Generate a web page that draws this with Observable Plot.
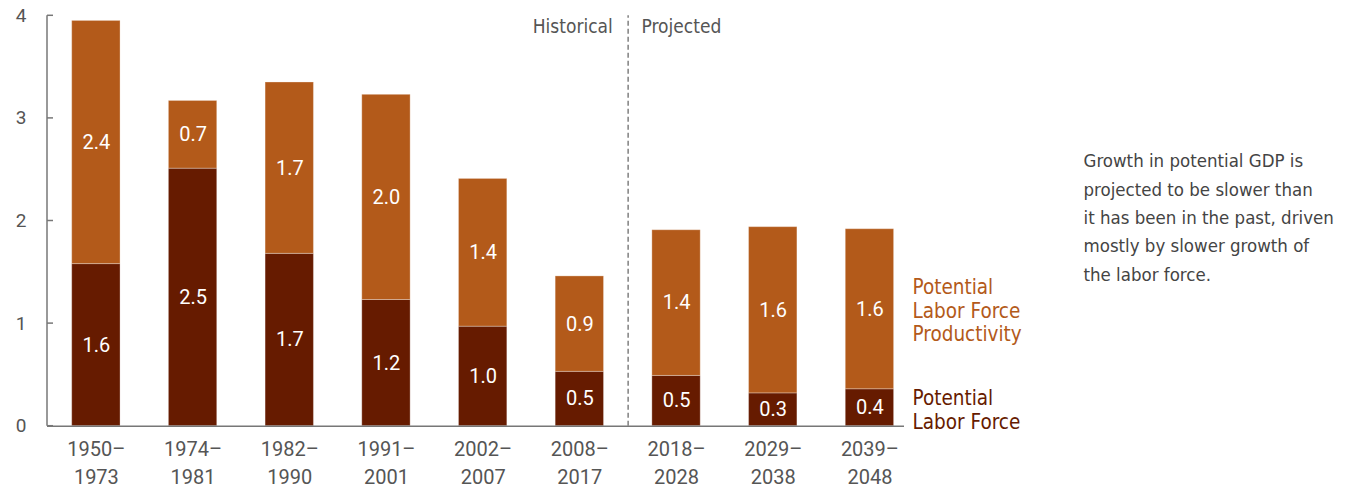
<!DOCTYPE html>
<html>
<head>
<meta charset="utf-8">
<script src="https://cdn.jsdelivr.net/npm/d3@7"></script>
<script src="https://cdn.jsdelivr.net/npm/@observablehq/plot@0.6"></script>
<style>
  html, body { margin: 0; padding: 0; background: #fff; }
  #chart svg { display: block; }
</style>
</head>
<body>
<div id="chart"></div>
<script>
const categories = ["1950–1973", "1974–1981", "1982–1990", "1991–2001", "2002–2007", "2008–2017", "2018–2028", "2029–2038", "2039–2048"];
const laborForce   = [1.58, 2.51, 1.68, 1.23, 0.97, 0.53, 0.49, 0.32, 0.36];
const productivity = [2.37, 0.66, 1.67, 2.00, 1.44, 0.93, 1.42, 1.62, 1.56];
const seriesNames = ["Potential Labor Force", "Potential Labor Force Productivity"];
const seriesColors = ["#661b00", "#b35a1a"];
const yTicks = [0, 1, 2, 3, 4];
const periodLabels = ["Historical", "Projected"];
const legendLabels = ["Potential\nLabor Force\nProductivity", "Potential\nLabor Force"];
const note = "Growth in potential GDP is\nprojected to be slower than\nit has been in the past, driven\nmostly by slower growth of\nthe labor force.";

const data = [];
categories.forEach((c, i) => {
  data.push({period: c, series: seriesNames[0], value: laborForce[i]});
  data.push({period: c, series: seriesNames[1], value: productivity[i]});
});

const numFont = "Roboto, 'Liberation Sans', sans-serif";
const textFont = "'Liberation Sans Narrow', 'DejaVu Sans Condensed', Roboto, sans-serif";
const fmt = d3.format(".1f");
const axisGray = "#777";

const chart = Plot.plot({
  width: 1357,
  height: 489,
  marginLeft: 47,
  marginRight: 453,
  marginTop: 15.3,
  marginBottom: 63.3,
  style: {fontFamily: numFont, background: "#fff"},
  x: {domain: categories, range: [71.7, 893.6], paddingInner: 0.5, paddingOuter: 0, round: false, axis: null},
  y: {domain: [0, 4], axis: null, label: null},
  color: {domain: seriesNames, range: seriesColors},
  marks: [
    Plot.barY(data, Plot.stackY({
      x: "period", y: "value", z: "series", fill: "series",
      stroke: "#fff", strokeOpacity: 0.3, strokeWidth: 1
    })),
    Plot.text(data, Plot.stackY({
      x: "period", y: "value", z: "series",
      text: d => fmt(d.value),
      fill: "white", fontSize: 20, fontFamily: numFont
    })),
    Plot.ruleX([categories[5]], {x: d => d, y1: 0, y2: 4, dx: 48.3, stroke: "#888", strokeWidth: 1.6, strokeDasharray: "5,3"}),
    Plot.text([periodLabels[0]], {x: () => categories[5], text: d => d, frameAnchor: "top", lineAnchor: "middle", dy: 10.7, dx: 33, textAnchor: "end", fill: "#555", fontSize: 19, fontFamily: textFont}),
    Plot.text([periodLabels[1]], {x: () => categories[6], text: d => d, frameAnchor: "top", lineAnchor: "middle", dy: 10.7, dx: -35, textAnchor: "start", fill: "#555", fontSize: 19, fontFamily: textFont}),
    Plot.ruleY([0], {y: d => d, stroke: axisGray, strokeWidth: 1.5}),
    Plot.axisY({ticks: yTicks, tickSize: 0, tickPadding: 21, fontSize: 19, fill: "#555", label: null, tickFormat: d => String(d), fontFamily: numFont}),
    Plot.axisX({tickSize: 0, tickPadding: 10, fontSize: 20, lineHeight: 1.4, fill: "#555", label: null, fontFamily: numFont, tickFormat: d => d.replace("–", "–\n")}),
    Plot.text([legendLabels[0]], {text: d => d, frameAnchor: "bottom-right", dx: 8, dy: -116, textAnchor: "start", lineAnchor: "middle", lineHeight: 1.15, fill: seriesColors[1], fontSize: 20.5, fontFamily: textFont}),
    Plot.text([legendLabels[1]], {text: d => d, frameAnchor: "bottom-right", dx: 8, dy: -17, textAnchor: "start", lineAnchor: "middle", lineHeight: 1.15, fill: seriesColors[0], fontSize: 20.5, fontFamily: textFont}),
    Plot.text([note], {text: d => d, frameAnchor: "right", dx: 179, dy: -6, textAnchor: "start", lineAnchor: "middle", lineHeight: 1.53, fill: "#444", fontSize: 18.5, fontFamily: textFont})
  ]
});
document.getElementById("chart").appendChild(chart);

// vertical axis line at the frame's left edge with inward ticks, positioned from the y scale
(function () {
  const y = chart.scale("y");
  const x0 = 47;
  const mk = (x1, x2, y1, y2) => {
    const l = document.createElementNS("http://www.w3.org/2000/svg", "line");
    l.setAttribute("x1", x1); l.setAttribute("x2", x2);
    l.setAttribute("y1", y1); l.setAttribute("y2", y2);
    l.setAttribute("stroke", axisGray); l.setAttribute("stroke-width", 1.5);
    chart.appendChild(l);
  };
  mk(x0, x0, y.apply(d3.max(yTicks)), y.apply(d3.min(yTicks)));
  for (const t of yTicks) mk(x0, x0 + 6, y.apply(t), y.apply(t));
})();
</script>
</body>
</html>
